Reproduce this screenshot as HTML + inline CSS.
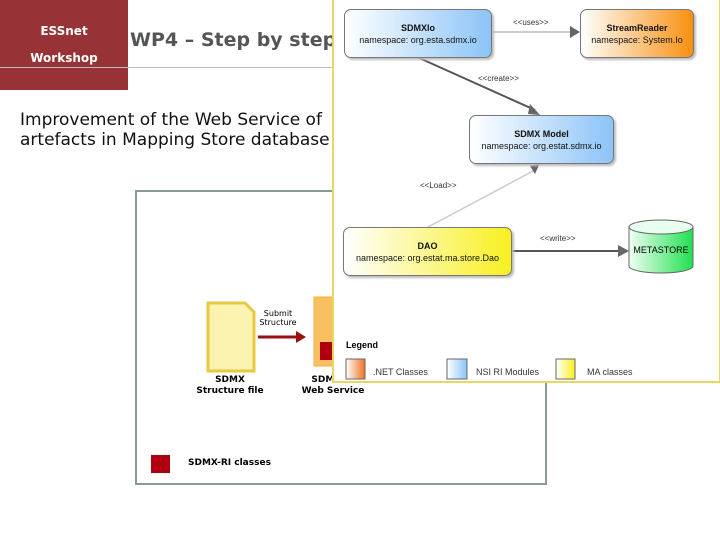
<!DOCTYPE html>
<html><head><style>
body{margin:0;width:720px;height:540px;background:#fff;position:relative;overflow:hidden;font-family:"DejaVu Sans","Liberation Sans",sans-serif}
.a{position:absolute}
.n{position:absolute;border:1px solid #777;border-radius:7px;box-shadow:2px 2px 2px #bbb;font-family:"Liberation Sans",sans-serif;font-size:9px;text-align:center;line-height:12px;display:flex;flex-direction:column;justify-content:center;color:#111}
.s{font-family:"Liberation Sans",sans-serif;font-size:8px;color:#333;position:absolute}
</style></head><body>
<div class="a" style="left:0;top:0;width:128px;height:90px;background:#973336"></div>
<div class="a" style="left:0;top:24px;width:128px;text-align:center;color:#fff;font-weight:bold;font-size:12px">ESSnet</div>
<div class="a" style="left:0;top:51px;width:128px;text-align:center;color:#fff;font-weight:bold;font-size:12px">Workshop</div>
<div class="a" style="left:0;top:67px;width:340px;height:1px;background:#bbb"></div>
<div class="a" style="left:130px;top:29px;color:#555;font-weight:bold;font-size:19px;white-space:nowrap">WP4 – Step by step</div>
<div class="a" style="left:20px;top:110px;font-size:17px;line-height:20px;color:#111;white-space:nowrap">Improvement of the Web Service of<br>artefacts in Mapping Store database</div>

<div class="a" style="left:135px;top:190px;width:408px;height:291px;border:2px solid #8a9a9a"></div>
<svg class="a" style="left:0;top:0" width="720" height="540">
<path d="M208 303 H245 L254 312 V371 H208 Z" fill="#fdf3b0" stroke="#e8c840" stroke-width="3"/>
<line x1="258" y1="337" x2="298" y2="337" stroke="#9a1010" stroke-width="3"/>
<polygon points="296,331 306,337 296,343" fill="#9a1010"/>
<rect x="314" y="297" width="22" height="69" fill="#f8c060" stroke="#f0b040"/>
<rect x="320" y="342" width="14" height="18" fill="#b00010"/>
<rect x="151" y="455" width="19" height="18" fill="#b00010"/>
</svg>
<div class="a" style="left:250px;top:309px;width:56px;text-align:center;font-size:8px;line-height:9px">Submit<br>Structure</div>
<div class="a" style="left:180px;top:375px;width:100px;text-align:center;font-size:9px;line-height:11px;font-weight:bold">SDMX<br>Structure file</div>
<div class="a" style="left:290px;top:375px;width:86px;text-align:center;font-size:9px;line-height:11px;font-weight:bold">SDMX-RI<br>Web Service</div>
<div class="a" style="left:188px;top:458px;font-size:9px;font-weight:bold">SDMX-RI classes</div>

<div class="a" style="left:332px;top:0;width:385px;height:381px;border:2px solid #e8d860;border-top:none;background:#fff"></div>
<svg class="a" style="left:0;top:0" width="720" height="540">
<defs><linearGradient id="g"><stop offset="0" stop-color="#f0fff4"/><stop offset="1" stop-color="#20e050"/></linearGradient>
<linearGradient id="o"><stop offset="0" stop-color="#fff"/><stop offset="1" stop-color="#f07020"/></linearGradient>
<linearGradient id="b"><stop offset="0" stop-color="#fff"/><stop offset="1" stop-color="#8cc4f8"/></linearGradient>
<linearGradient id="y"><stop offset="0" stop-color="#fff"/><stop offset="1" stop-color="#f8f020"/></linearGradient></defs>
<line x1="491" y1="32" x2="572" y2="32" stroke="#ccc" stroke-width="2"/>
<polygon points="570,26 580,32 570,38" fill="#666"/>
<line x1="417" y1="57" x2="535" y2="110" stroke="#555" stroke-width="2"/>
<polygon points="530,104 540,115 528,114" fill="#666"/>
<line x1="428" y1="227" x2="535" y2="170" stroke="#ccc" stroke-width="1.5"/>
<polygon points="530,166 540,163 535,174" fill="#666"/>
<line x1="511" y1="251" x2="620" y2="251" stroke="#555" stroke-width="2"/>
<polygon points="618,245 629,251 618,257" fill="#666"/>
<path d="M629 227 V266 A32 7 0 0 0 693 266 V227 Z" fill="url(#g)" stroke="#666"/>
<ellipse cx="661" cy="227" rx="32" ry="7" fill="#e8fff0" stroke="#666"/>
<rect x="346" y="359" width="19" height="20" fill="url(#o)" stroke="#666"/>
<rect x="447" y="359" width="20" height="20" fill="url(#b)" stroke="#666"/>
<rect x="556" y="359" width="19" height="20" fill="url(#y)" stroke="#666"/>
</svg>
<div class="n" style="left:344px;top:9px;width:146px;height:47px;background:linear-gradient(90deg,#fff,#8cc4f8)"><b>SDMXIo</b>namespace: org.esta.sdmx.io</div>
<div class="n" style="left:580px;top:9px;width:112px;height:47px;background:linear-gradient(90deg,#fff,#f89010)"><b>StreamReader</b>namespace: System.Io</div>
<div class="n" style="left:469px;top:115px;width:143px;height:47px;background:linear-gradient(90deg,#fff,#8cc4f8)"><b>SDMX Model</b>namespace: org.estat.sdmx.io</div>
<div class="n" style="left:343px;top:227px;width:167px;height:47px;background:linear-gradient(90deg,#fff,#f8f020)"><b>DAO</b>namespace: org.estat.ma.store.Dao</div>
<div class="a" style="left:629px;top:245px;width:64px;text-align:center;font-family:'Liberation Sans',sans-serif;font-size:9px">METASTORE</div>
<div class="s" style="left:513px;top:18px">&lt;&lt;uses&gt;&gt;</div>
<div class="s" style="left:478px;top:74px">&lt;&lt;create&gt;&gt;</div>
<div class="s" style="left:420px;top:181px">&lt;&lt;Load&gt;&gt;</div>
<div class="s" style="left:540px;top:234px">&lt;&lt;write&gt;&gt;</div>
<div class="a" style="left:346px;top:340px;font-family:'Liberation Sans',sans-serif;font-size:9px;font-weight:bold">Legend</div>
<div class="s" style="left:373px;top:367px;font-size:9px">.NET Classes</div>
<div class="s" style="left:476px;top:367px;font-size:9px">NSI RI Modules</div>
<div class="s" style="left:587px;top:367px;font-size:9px">MA classes</div>
</body></html>
